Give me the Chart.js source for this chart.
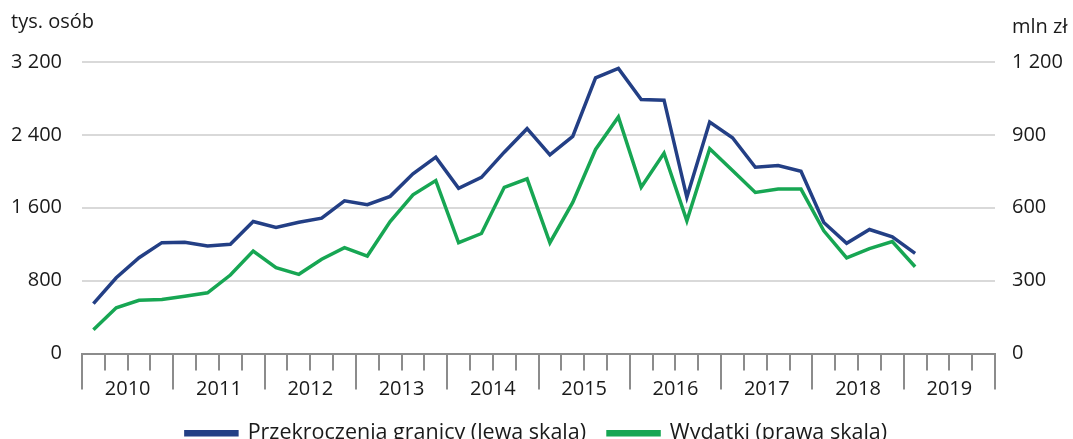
<!DOCTYPE html>
<html>
<head>
<meta charset="utf-8">
<script src="https://cdn.jsdelivr.net/npm/chart.js@4/dist/chart.umd.min.js"></script>
<style>
  html, body { margin: 0; padding: 0; background: #fff; overflow: hidden; }
  #chart { display: block; }
</style>
</head>
<body>
<canvas id="chart" width="1073" height="454"></canvas>
<script>
const years = ['2010', '2011', '2012', '2013', '2014', '2015', '2016', '2017', '2018', '2019'];
const quarters = [];
years.forEach(y => { for (let q = 1; q <= 4; q++) quarters.push(y + ' Q' + q); });

// tys. osób (left scale)
const crossings = [548, 831, 1052, 1217, 1222, 1181, 1199, 1449, 1383, 1440, 1486, 1677,
  1633, 1725, 1972, 2155, 1813, 1934, 2210, 2468, 2181, 2383, 3027, 3130,
  2788, 2781, 1714, 2541, 2369, 2045, 2063, 2001, 1438, 1210, 1361, 1280, 1100];
// mln zł (right scale)
const spending = [98, 188, 219, 222, 236, 250, 323, 422, 353, 326, 388, 436,
  401, 543, 653, 712, 456, 494, 684, 719, 456, 622, 840, 974,
  684, 825, 546, 843, 753, 663, 677, 677, 505, 394, 432, 461, 357];

const leftTicks = [0, 800, 1600, 2400, 3200];
const rightTicks = [0, 300, 600, 900, 1200];

const BLUE = '#233f85';
const GREEN = '#17a653';
const AXIS_GREY = '#8c8c8c';
const FONT = 'Open Sans';

const fmt = v => String(v).replace(/\B(?=(\d{3})+(?!\d))/g, ' ');

// unit captions above the y axes
const unitsPlugin = {
  id: 'units',
  afterDraw(chart) {
    const ctx = chart.ctx;
    ctx.save();
    ctx.fillStyle = '#1a1a1a';
    ctx.font = '20px "' + FONT + '"';
    ctx.textBaseline = 'middle';
    ctx.textAlign = 'left';
    ctx.fillText('tys. osób', 11, 22);
    ctx.fillText('mln zł', chart.scales.y2.left + 17, 27);
    ctx.restore();
  }
};

Chart.defaults.font.family = FONT;
Chart.defaults.font.size = 20;
Chart.defaults.color = '#1a1a1a';

new Chart(document.getElementById('chart').getContext('2d'), {
  type: 'line',
  data: {
    labels: quarters,
    datasets: [
      {
        label: 'Przekroczenia granicy (lewa skala)',
        data: crossings,
        yAxisID: 'y',
        borderColor: BLUE,
        backgroundColor: BLUE,
        borderWidth: 3.5,
        pointRadius: 0,
        tension: 0
      },
      {
        label: 'Wydatki (prawa skala)',
        data: spending,
        yAxisID: 'y2',
        borderColor: GREEN,
        backgroundColor: GREEN,
        borderWidth: 3.5,
        pointRadius: 0,
        tension: 0
      }
    ]
  },
  options: {
    responsive: false,
    animation: false,
    devicePixelRatio: 1,
    layout: { padding: { top: 62, left: 0, right: 0, bottom: 0 } },
    plugins: {
      legend: {
        position: 'bottom',
        labels: {
          boxWidth: 51,
          boxHeight: 3,
          padding: 22,
          font: { size: 21.5 }
        }
      },
      tooltip: { enabled: false }
    },
    scales: {
      x: {
        type: 'category',
        position: 'bottom',
        weight: 0,
        offset: true,
        grid: {
          offset: true,
          drawOnChartArea: false,
          tickLength: 17,
          color: AXIS_GREY,
          lineWidth: 2
        },
        border: { display: true, color: AXIS_GREY, width: 2 },
        ticks: { display: false },
        afterFit: s => { s.height = 0; }
      },
      x2: {
        type: 'category',
        labels: years,
        position: 'bottom',
        weight: 1,
        offset: true,
        grid: {
          offset: true,
          drawOnChartArea: false,
          tickLength: 36,
          color: AXIS_GREY,
          lineWidth: 2
        },
        border: { display: false },
        ticks: { padding: -12, maxRotation: 0, autoSkip: false },
        afterFit: s => { s.height += 11; }
      },
      y: {
        position: 'left',
        min: 0,
        max: 3200,
        afterBuildTicks: s => { s.ticks = leftTicks.map(v => ({ value: v })); },
        grid: { color: '#d9d9d9', lineWidth: 2, drawTicks: false },
        border: { display: false },
        ticks: { padding: 20, callback: v => fmt(v) },
        afterFit: s => { s.width = 82; }
      },
      y2: {
        position: 'right',
        min: 0,
        max: 1200,
        afterBuildTicks: s => { s.ticks = rightTicks.map(v => ({ value: v })); },
        grid: { drawOnChartArea: false, drawTicks: false },
        border: { display: false },
        ticks: { padding: 17, callback: v => fmt(v) },
        afterFit: s => { s.width = 78; }
      }
    }
  },
  plugins: [unitsPlugin]
});
</script>
</body>
</html>
